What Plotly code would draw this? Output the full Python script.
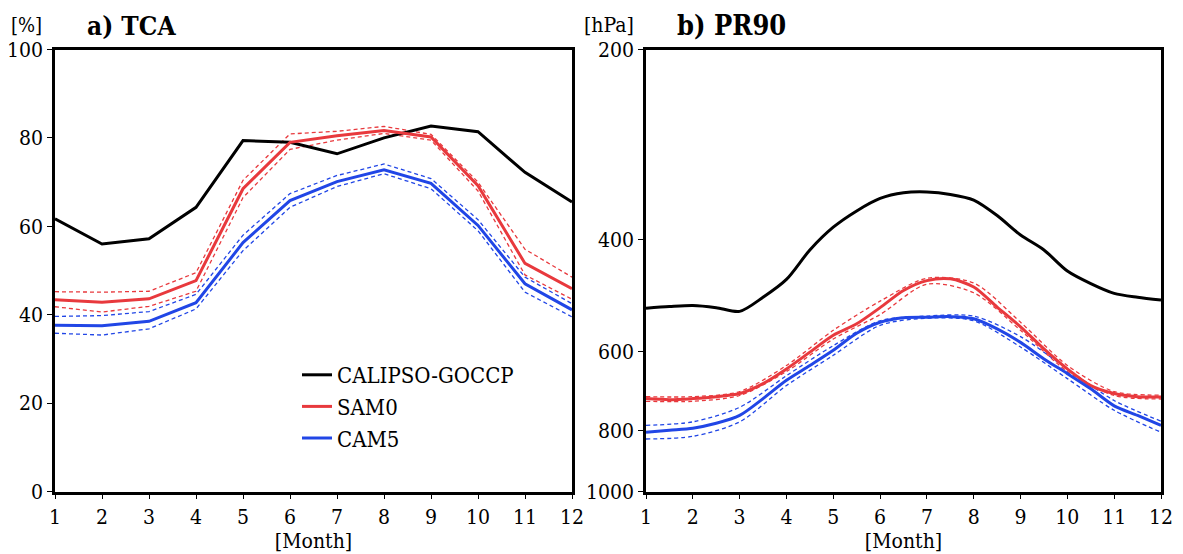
import plotly.graph_objects as go

# ---------------- data ----------------
months = list(range(1, 13))
month_ticks = [str(m) for m in months]

# panel a) TCA [%]
tca_calipso = [61.7, 56.0, 57.2, 64.3, 79.4, 79.0, 76.4, 80.0, 82.7, 81.4, 72.2, 65.5]
tca_sam0 = [43.4, 42.8, 43.6, 47.7, 68.5, 79.0, 80.5, 81.7, 80.2, 69.2, 51.6, 45.9]
tca_sam0_hi = [45.2, 45.1, 45.3, 49.5, 70.4, 80.9, 81.5, 82.6, 80.8, 70.0, 54.8, 48.5]
tca_sam0_lo = [41.8, 40.6, 41.9, 45.3, 66.5, 77.4, 79.5, 81.0, 79.5, 68.0, 49.0, 43.5]
tca_cam5 = [37.6, 37.5, 38.5, 42.7, 56.3, 65.8, 70.1, 72.8, 69.7, 60.2, 47.0, 41.1]
tca_cam5_hi = [39.6, 39.8, 40.7, 44.6, 58.0, 67.4, 71.5, 74.1, 70.8, 61.5, 48.5, 42.5]
tca_cam5_lo = [35.8, 35.4, 36.8, 41.3, 54.5, 64.3, 69.0, 71.9, 68.5, 59.0, 45.1, 39.5]

# panel b) PR90 [hPa], read at half-month steps
pr_x = [1, 1.5, 2, 2.5, 3, 3.5, 4, 4.5, 5, 5.5, 6, 6.5, 7, 7.5, 8, 8.5, 9, 9.5, 10, 10.5, 11, 11.5, 12]
pr_calipso = [513, 510, 508, 512, 519, 493, 462, 415, 382, 360, 344, 337, 336, 339, 346, 366, 393, 415, 448, 469, 486, 493, 498]
pr_sam0 = [713, 716, 713, 708, 700, 675, 640, 602, 566, 543, 512, 481, 464, 461, 475, 511, 549, 595, 640, 680, 700, 708, 709]
pr_cam5 = [806, 800, 794, 780, 758, 713, 667, 632, 598, 562, 540, 531, 530, 529, 533, 553, 581, 617, 651, 688, 732, 758, 786]
# spread lines, read at monthly steps
pr_sam0_hi = [708, 708, 695, 632, 556, 500, 460, 468, 540, 632, 695, 704]
pr_sam0_lo = [720, 720, 705, 646, 574, 525, 470, 485, 556, 646, 705, 714]
pr_cam5_hi = [786, 776, 736, 656, 588, 537, 528, 528, 569, 640, 718, 774]
pr_cam5_lo = [826, 818, 776, 680, 609, 546, 532, 537, 591, 663, 744, 806]

pr_ticks = [200, 400, 600, 800, 1000]

BLACK = "#000000"
RED = "#E8393D"
BLUE = "#2146E6"
FONT = "DejaVu Serif Condensed, DejaVu Serif, serif"

fig = go.Figure()

# ---- panel a ----
for ys, col in [(tca_sam0_hi, RED), (tca_sam0_lo, RED), (tca_cam5_hi, BLUE), (tca_cam5_lo, BLUE)]:
    fig.add_trace(go.Scatter(x=months, y=ys, mode="lines", xaxis="x", yaxis="y",
                             line=dict(color=col, width=1.3, dash="4px,3px"), showlegend=False))
fig.add_trace(go.Scatter(x=months, y=tca_calipso, mode="lines", name="CALIPSO-GOCCP",
                         xaxis="x", yaxis="y", line=dict(color=BLACK, width=3)))
fig.add_trace(go.Scatter(x=months, y=tca_sam0, mode="lines", name="SAM0",
                         xaxis="x", yaxis="y", line=dict(color=RED, width=3)))
fig.add_trace(go.Scatter(x=months, y=tca_cam5, mode="lines", name="CAM5",
                         xaxis="x", yaxis="y", line=dict(color=BLUE, width=3)))

# ---- panel b ----
for ys, col in [(pr_sam0_hi, RED), (pr_sam0_lo, RED), (pr_cam5_hi, BLUE), (pr_cam5_lo, BLUE)]:
    fig.add_trace(go.Scatter(x=months, y=ys, mode="lines", xaxis="x2", yaxis="y2",
                             line=dict(color=col, width=1.3, dash="4px,3px", shape="spline", smoothing=0.8),
                             showlegend=False))
for ys, col in [(pr_calipso, BLACK), (pr_sam0, RED), (pr_cam5, BLUE)]:
    fig.add_trace(go.Scatter(x=pr_x, y=ys, mode="lines", xaxis="x2", yaxis="y2",
                             line=dict(color=col, width=3, shape="spline", smoothing=0.8),
                             showlegend=False))

# page has an 8px body margin: the figure is sized/positioned to compensate
OFF = 8
W, H = 1183 - OFF, 554 - OFF


def px(v):
    return (v - OFF) / W


def py(v):
    return 1 - (v - OFF) / H


ytop, ybot = 49.5, 491.5
common_x = dict(range=[1, 12], tickmode="array", tickvals=months, ticktext=month_ticks,
                showline=True, linewidth=2.5, linecolor="black", mirror=True,
                ticks="outside", ticklen=5, tickwidth=1.2, tickcolor="black",
                showgrid=False, zeroline=False, automargin=False,
                tickfont=dict(family=FONT, size=21, color="black"),
                title=dict(text="[Month]", font=dict(family=FONT, size=21, color="black"), standoff=0))
common_y = dict(showline=True, linewidth=2.5, linecolor="black", mirror=True,
                ticks="outside", ticklen=5, tickwidth=1.2, tickcolor="black",
                showgrid=False, zeroline=False, automargin=False,
                tickfont=dict(family=FONT, size=21, color="black"))

fig.update_layout(
    width=W, height=H,
    margin=dict(l=0, r=0, t=0, b=0, autoexpand=False),
    paper_bgcolor="white", plot_bgcolor="white",
    xaxis=dict(domain=[px(55), px(572)], anchor="y", **common_x),
    yaxis=dict(domain=[py(ybot), py(ytop)], anchor="x", range=[0, 100],
               tickvals=[0, 20, 40, 60, 80, 100], **common_y),
    xaxis2=dict(domain=[px(646), px(1161)], anchor="y2", **common_x),
    yaxis2=dict(domain=[py(ybot), py(ytop)], anchor="x2", type="log",
                range=[3, 2.30103], tickvals=pr_ticks, ticktext=[str(t) for t in pr_ticks], **common_y),
    legend=dict(x=px(297), y=py(354), xanchor="left", yanchor="top",
                font=dict(family=FONT, size=22, color="black"),
                bgcolor="rgba(0,0,0,0)", tracegroupgap=0),
    showlegend=True,
    annotations=[
        dict(text="[%]", x=px(9), y=py(25), xref="paper", yref="paper", xanchor="left",
             yanchor="middle", showarrow=False, font=dict(family=FONT, size=20, color="black")),
        dict(text="<b>a) TCA</b>", x=px(85), y=py(26), xref="paper", yref="paper", xanchor="left",
             yanchor="middle", showarrow=False, font=dict(family=FONT, size=26, color="black")),
        dict(text="[hPa]", x=px(582), y=py(25), xref="paper", yref="paper", xanchor="left",
             yanchor="middle", showarrow=False, font=dict(family=FONT, size=21, color="black")),
        dict(text="<b>b) PR90</b>", x=px(675), y=py(26), xref="paper", yref="paper", xanchor="left",
             yanchor="middle", showarrow=False, font=dict(family=FONT, size=27, color="black")),
    ],
)

fig.write_html("out.html")
